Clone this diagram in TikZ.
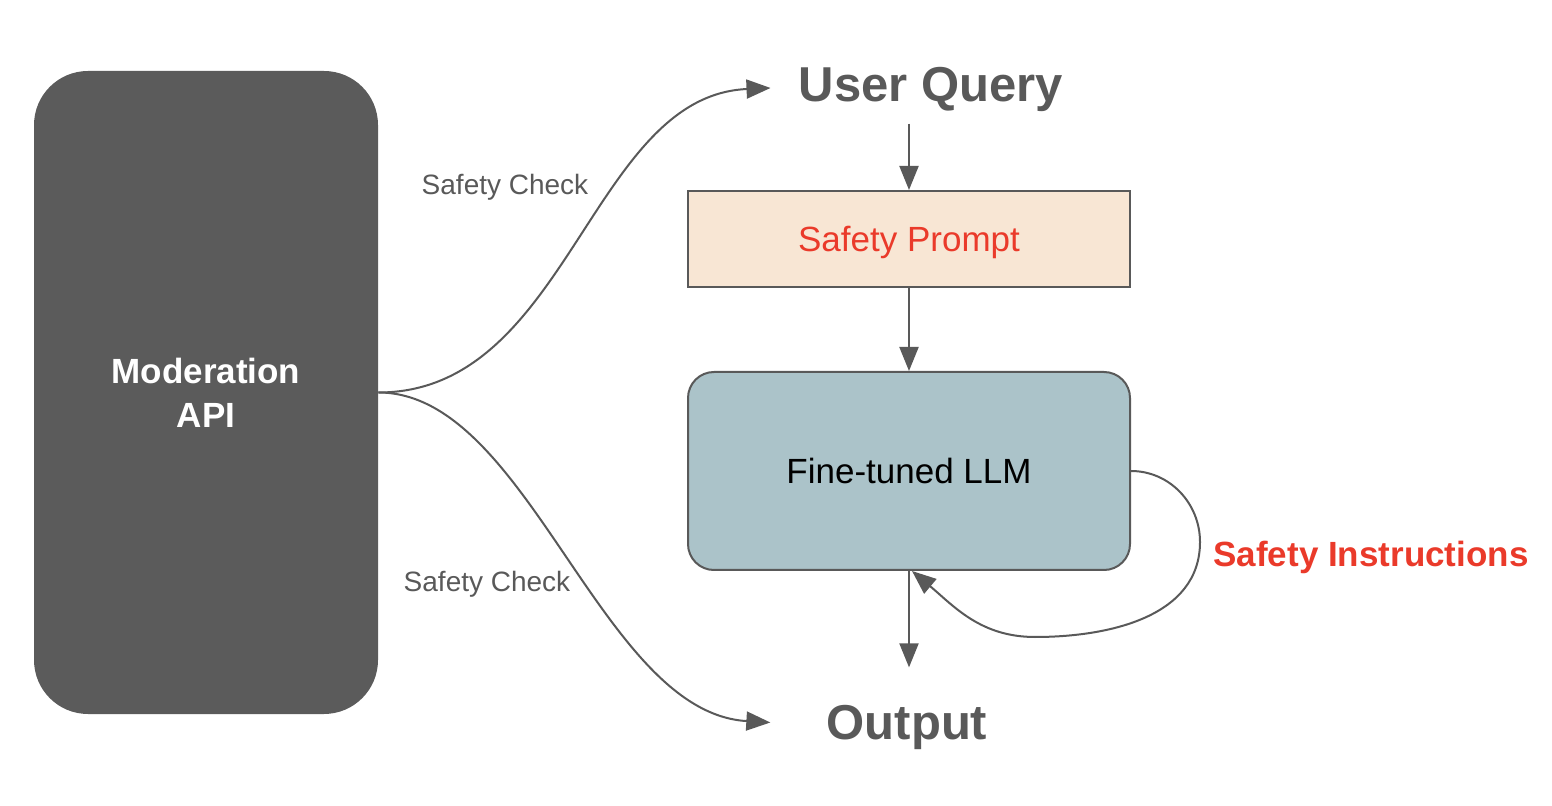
\documentclass[tikz,border=0pt]{standalone}
\usepackage{fontspec}
\setmainfont{Liberation Sans}
\usetikzlibrary{arrows.meta}

\definecolor{gris}{HTML}{595959}
\definecolor{apigris}{HTML}{5B5B5B}
\definecolor{rojo}{HTML}{EA3A2A}
\definecolor{crema}{HTML}{F8E6D4}
\definecolor{azulgris}{HTML}{ABC3C9}

\begin{document}
\begin{tikzpicture}[x=0.5pt, y=-0.5pt,
    flecha/.style={draw=gris, line width=1pt, -{Triangle[length=12pt,width=9.5pt]}},
    caja/.style={draw=gris, line width=1pt, minimum width=221pt, inner sep=0pt, text depth=0pt,
        font=\fontsize{17.5pt}{21pt}\selectfont},
    titulo/.style={font=\fontsize{24.5pt}{29pt}\selectfont\bfseries, text=gris, inner sep=0pt, anchor=base},
    etiqueta/.style={font=\fontsize{14pt}{17pt}\selectfont, text=gris, inner sep=0pt, anchor=base},
    nota/.style={font=\fontsize{17.5pt}{21pt}\selectfont\bfseries, text=rojo, inner sep=0pt, anchor=base}]
    \useasboundingbox (0,0) rectangle (1552,806);

    % Bloque de moderacion
    \node[fill=apigris, rounded corners=27pt, minimum width=172pt, minimum height=321.5pt, inner sep=0pt,
        text=white, align=center, font=\fontsize{17.5pt}{22pt}\selectfont\bfseries] (api) at (206,392.5) {Moderation\\API};

    % Entrada y salida
    \node[titulo] (query) at (931,102) {User Query};
    \node[titulo] (output) at (907,739) {Output};

    % Cajas centrales
    \node[caja, fill=crema, minimum height=48pt, text=rojo] (prompt) at (909,239) {Safety Prompt};
    \node[caja, fill=azulgris, rounded corners=13pt, minimum height=99pt] (llm) at (909,471) {Fine-tuned LLM};

    % Textos
    \node[etiqueta] (check1) at (505,195) {Safety Check};
    \node[etiqueta] (check2) at (487,591) {Safety Check};
    \node[nota] (instr) at (1371,567) {Safety Instructions};

    % Flechas verticales
    \draw[flecha, shorten <=5.5pt] (prompt.north |- query.south) -- (prompt.north);
    \draw[flecha] (prompt.south) -- (llm.north);
    \draw[flecha, shorten >=18.5pt] (llm.south) -- (llm.south |- output.north);

    % Curvas de control
    \coordinate (entrada) at ([xshift=-14pt,yshift=1pt]query.west);
    \coordinate (salida) at ([xshift=-28pt,yshift=2.25pt]output.west);
    \draw[flecha] (api.east) .. controls +(190,0) and +(-180,8) .. (entrada);
    \draw[flecha] (api.east) .. controls +(150,0) and +(-170,-10) .. (salida);

    % Bucle de instrucciones
    \draw[flecha] (llm.east) to[out=0,in=90] (1200,542) to[out=-90,in=0] (1035,637)
        to[out=180,in=-40] ([xshift=1.5pt]llm.south);
\end{tikzpicture}
\end{document}
